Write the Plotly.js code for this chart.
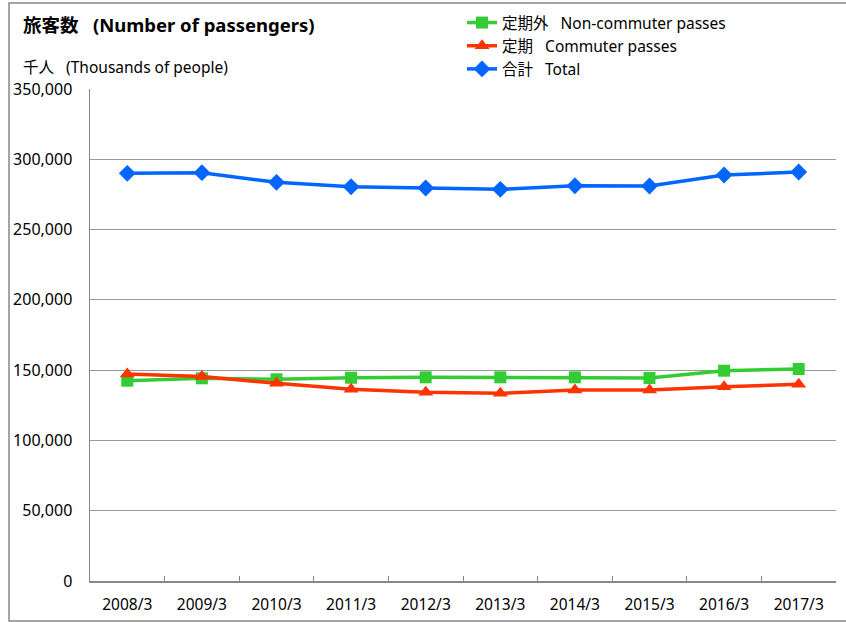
<!DOCTYPE html>
<html>
<head>
<meta charset="utf-8">
<script src="https://cdn.plot.ly/plotly-3.0.1.min.js"></script>
<style>html,body{margin:0;padding:0;background:#fff;}#chart{width:846px;height:622px;}</style>
</head>
<body>
<div id="chart"></div>
<script>
// Data (thousands of people)
const categories = ["2008/3","2009/3","2010/3","2011/3","2012/3","2013/3","2014/3","2015/3","2016/3","2017/3"];
const nonCommuter = [142500, 144200, 143500, 144600, 144900, 144900, 144900, 144400, 149600, 150800];
const commuter    = [147300, 145400, 140600, 136400, 134200, 133500, 135900, 135900, 138200, 139900];
const total       = [290000, 290500, 283600, 280500, 279600, 278600, 281200, 281000, 288800, 291000];
const yTicks = [0, 50000, 100000, 150000, 200000, 250000, 300000, 350000];
const yTickText = ["0","50,000","100,000","150,000","200,000","250,000","300,000","350,000"];
const seriesNames = ["定期外\u00A0\u00A0\u00A0Non-commuter passes", "定期\u00A0\u00A0\u00A0Commuter passes", "合計\u00A0\u00A0\u00A0Total"];

const FONT = "'Noto Sans', 'Noto Sans CJK JP', sans-serif";

const traces = [
  {x: categories, y: nonCommuter, name: seriesNames[0], type: 'scatter', mode: 'lines+markers',
   line: {color: '#33CC33', width: 3.5}, marker: {symbol: 'square', size: 12, color: '#33CC33'}},
  {x: categories, y: commuter, name: seriesNames[1], type: 'scatter', mode: 'lines+markers',
   line: {color: '#FF3300', width: 3.5}, marker: {symbol: 'triangle-up', size: 13, color: '#FF3300'}},
  {x: categories, y: total, name: seriesNames[2], type: 'scatter', mode: 'lines+markers',
   line: {color: '#0066FF', width: 3.5}, marker: {symbol: 'diamond', size: 13, color: '#0066FF'}}
];

const L = 90, R = 10, T = 89, B = 41, W = 846, H = 622;
const pw = W - L - R, ph = H - T - B;

const layout = {
  width: W, height: H,
  margin: {l: L, r: R, t: T, b: B, pad: 0, autoexpand: false},
  paper_bgcolor: '#fff', plot_bgcolor: '#fff',
  font: {family: FONT, size: 14, color: '#000'},
  showlegend: true,
  legend: {
    x: (462 - L) / pw, xanchor: 'left',
    y: (H - B - 6) / ph, yanchor: 'top',
    font: {family: FONT, size: 15.5, color: '#000'},
    bgcolor: 'rgba(0,0,0,0)', tracegroupgap: 0, itemwidth: 30
  },
  xaxis: {
    type: 'category', range: [-0.5, 9.5],
    showgrid: false, showline: true, linecolor: '#888', linewidth: 1.5,
    ticks: 'inside', tickson: 'boundaries', ticklen: 5, tickcolor: '#888', tickwidth: 1,
    tickfont: {family: FONT, size: 15.5, color: '#000'},
    ticklabelstandoff: 9, zeroline: false, fixedrange: true
  },
  yaxis: {
    range: [0, 350000], tickvals: yTicks, ticktext: yTickText,
    showgrid: true, gridcolor: '#999', gridwidth: 1,
    showline: true, linecolor: '#888', linewidth: 1.5,
    ticks: 'outside', ticklen: 13, tickcolor: 'rgba(0,0,0,0)',
    tickfont: {family: FONT, size: 16, color: '#000'},
    zeroline: false, fixedrange: true
  },
  annotations: [
    {xref: 'paper', yref: 'paper', x: (21 - L) / pw, y: (H - B - 25) / ph, xanchor: 'left', yanchor: 'middle',
     text: '<b>旅客数\u00A0\u00A0\u00A0(Number of passengers)</b>', showarrow: false,
     font: {family: FONT, size: 18.5, color: '#000'}},
    {xref: 'paper', yref: 'paper', x: (21 - L) / pw, y: (H - B - 67) / ph, xanchor: 'left', yanchor: 'middle',
     text: '千人\u00A0\u00A0\u00A0(Thousands of people)', showarrow: false,
     font: {family: FONT, size: 15.5, color: '#000'}}
  ],
  shapes: [
    {type: 'rect', xref: 'paper', yref: 'paper',
     x0: (9 - L) / pw, x1: (W + 20 - L) / pw, y0: (H - B - 621) / ph, y1: (H - B - 3) / ph,
     line: {color: '#888', width: 1.5}, fillcolor: 'rgba(0,0,0,0)', layer: 'below'}
  ]
};

Plotly.newPlot('chart', traces, layout, {displayModeBar: false, staticPlot: true});
</script>
</body>
</html>
